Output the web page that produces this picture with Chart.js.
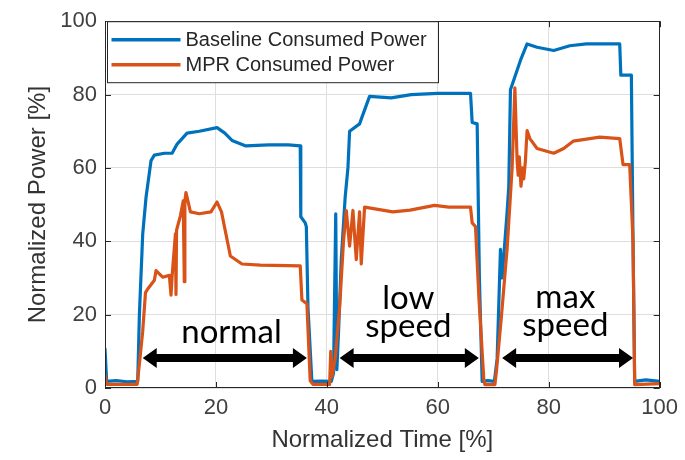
<!DOCTYPE html>
<html><head><meta charset="utf-8">
<script src="https://cdn.jsdelivr.net/npm/chart.js@4.4.1/dist/chart.umd.min.js"></script>
<style>html,body{margin:0;padding:0;background:#fff}#wrap{width:685px;height:460px}</style>
</head><body><div id="wrap"><canvas id="c" width="685" height="460"></canvas></div>
<script>
// ---------- data ----------
const seriesNames = ["Baseline Consumed Power", "MPR Consumed Power"];
const xTicks = [0, 20, 40, 60, 80, 100];
const yTicks = [0, 20, 40, 60, 80, 100];
const xTitle = "Normalized Time [%]";
const yTitle = "Normalized Power [%]";

const baselineTime = [0, 0.3, 2, 4, 5.9, 6.2, 6.8, 7.4, 8.3, 8.9, 10.7, 12.1, 13.0, 14.8, 17.0, 20.2, 21.6, 22.9, 25.4, 29.5,
  33.1, 35.2, 35.3, 36.1, 36.3, 36.6, 37.3, 39, 40.8, 41.2, 41.6, 41.8, 42.1, 42.6, 43.3, 43.8, 44.1, 45.9, 46.2, 47.7,
  51.6, 55.2, 60.0, 65.9, 66.2, 67.1, 67.5, 68.0, 69, 70.2, 70.7, 71.3, 71.6, 72.5, 72.8, 73.1, 73.7, 74.9, 76.1, 77.9,
  80.9, 83.8, 86.8, 92.8, 93.0, 94.9, 95.2, 95.5, 97.5, 100];
const baselinePower = [10.7, 1.8, 2.0, 1.7, 1.8, 20, 42, 52, 62, 63.5, 64, 64, 66.5, 69.5, 70, 71, 69.5, 67.5, 66, 66.3,
  66.3, 66, 46.7, 45, 44, 21.8, 1.8, 1.9, 1.8, 4, 47.5, 5, 15, 35, 52, 60, 70, 72, 73.3, 79.5,
  79.1, 80, 80.3, 80.3, 72.4, 72, 30, 1.8, 2.0, 1.8, 8, 37.8, 30, 48, 55, 81.3, 84, 89.3, 93.8, 92.9,
  92, 93.3, 93.8, 93.8, 85.3, 85.3, 40, 1.8, 2.2, 1.8];

const mprTime = [0, 0.3, 3, 5.8, 6.3, 6.8, 7.3, 7.7, 8.9, 9.2, 10.4, 11.6, 11.9, 12.1, 12.7, 12.8, 12.9, 13.6, 14.1, 14.3,
  14.4, 14.6, 15.4, 17.0, 19.1, 20.2, 21.0, 22.6, 24.7, 28.0, 35.2, 35.5, 36.4, 37.0, 37.5, 40.5, 40.7, 40.9, 41.5, 42.3,
  43.0, 43.5, 44.1, 44.7, 45.3, 45.9, 46.2, 46.8, 51.9, 55.0, 59.4, 62.0, 65.9, 66.2, 66.8, 67.4, 68.3, 68.5, 70.3, 70.6,
  71.5, 72.5, 73.2, 73.4, 73.9, 74.3, 74.5, 74.7, 75.0, 75.3, 75.5, 75.8, 76.1, 76.6, 77.9, 80.9, 82.7, 84.4, 89.2, 92.8,
  93.4, 94.6, 95.2, 95.5, 100];
const mprPower = [3.5, 1.0, 1.0, 1.0, 8, 15.5, 26, 27, 29.4, 32, 30.2, 30.7, 25.3, 30.5, 42, 25.5, 43, 47, 51, 29,
  51, 53.3, 48, 47.5, 48, 50.7, 48, 36, 33.8, 33.5, 33.3, 24, 23, 2, 1.0, 1.0, 10, 3, 8, 22,
  40, 48.4, 38.7, 48.4, 35, 48, 33.8, 49.3, 48, 48.5, 49.8, 49.3, 49.3, 45, 44, 25, 2.2, 0.9, 0.9, 5,
  20, 38, 55, 60, 81.8, 62, 58, 63, 55, 60, 57, 62, 70.2, 68, 65.3, 64, 65.3, 67.3, 68.4, 68,
  60.9, 60.9, 40, 0.9, 1.2];

const phaseNames = [["normal"], ["low", "speed"], ["max", "speed"]];

// ---------- drawing ----------
const SANS = "'Liberation Sans', Arial, sans-serif";
const COLORS = ["#0072BD", "#D95319"];

function toXY(xs, ys) { return xs.map((v, i) => ({ x: v, y: ys[i] })); }

const overlay = {
  id: 'overlay',
  afterDatasetsDraw(chart) {
    const { ctx, chartArea: a, scales: { x, y } } = chart;
    ctx.save();
    // axes box
    ctx.strokeStyle = '#262626';
    ctx.lineWidth = 1;
    ctx.strokeRect(Math.round(a.left) + 0.5, Math.round(a.top) + 0.5, Math.round(a.right - a.left) - 1, Math.round(a.bottom - a.top) - 1);
    // inner ticks
    ctx.beginPath();
    xTicks.forEach(v => {
      const px = Math.round(x.getPixelForValue(v)) + 0.5;
      ctx.moveTo(px, a.bottom); ctx.lineTo(px, a.bottom - 6);
      ctx.moveTo(px, a.top); ctx.lineTo(px, a.top + 6);
    });
    yTicks.forEach(v => {
      const py = Math.round(y.getPixelForValue(v)) + 0.5;
      ctx.moveTo(a.left, py); ctx.lineTo(a.left + 6, py);
      ctx.moveTo(a.right, py); ctx.lineTo(a.right - 6, py);
    });
    ctx.stroke();

    // phase annotations
    const phases = [
      { cx: 22.8, lines: [12.4], from: 6.8, to: 36.4 },
      { cx: 54.7, lines: [21.6, 13.9], from: 42.3, to: 67.4 },
      { cx: 83.0, lines: [21.9, 14.1], from: 71.6, to: 95.2 }
    ];
    ctx.fillStyle = '#000';
    ctx.font = "33px Lato, 'Open Sans', sans-serif";
    ctx.textAlign = 'center';
    ctx.textBaseline = 'alphabetic';
    phases.forEach((p, i) => {
      phaseNames[i].forEach((t, j) => {
        ctx.fillText(t, x.getPixelForValue(p.cx), y.getPixelForValue(p.lines[j]));
      });
      const x1 = x.getPixelForValue(p.from), x2 = x.getPixelForValue(p.to), yy = y.getPixelForValue(8.2);
      const hl = 14, hh = 10, bw = 4;
      ctx.beginPath();
      ctx.moveTo(x1, yy); ctx.lineTo(x1 + hl, yy - hh); ctx.lineTo(x1 + hl, yy - bw);
      ctx.lineTo(x2 - hl, yy - bw); ctx.lineTo(x2 - hl, yy - hh); ctx.lineTo(x2, yy);
      ctx.lineTo(x2 - hl, yy + hh); ctx.lineTo(x2 - hl, yy + bw); ctx.lineTo(x1 + hl, yy + bw);
      ctx.lineTo(x1 + hl, yy + hh); ctx.closePath(); ctx.fill();
    });

    // legend box
    const lx = a.left + 1.5, ly = a.top + 0.5, lw = 331, lh = 61;
    ctx.fillStyle = '#fff';
    ctx.fillRect(lx, ly, lw, lh);
    ctx.strokeStyle = '#262626';
    ctx.lineWidth = 1;
    ctx.strokeRect(Math.round(lx) + 0.5, ly, lw, lh);
    ctx.font = "20px " + SANS;
    ctx.textAlign = 'left';
    ctx.textBaseline = 'middle';
    chart.data.datasets.forEach((ds, i) => {
      const yy = ly + 18 + i * 25;
      ctx.strokeStyle = ds.borderColor;
      ctx.lineWidth = 3.5;
      ctx.beginPath(); ctx.moveTo(lx + 5, yy); ctx.lineTo(lx + 74, yy); ctx.stroke();
      ctx.fillStyle = '#262626';
      ctx.fillText(ds.label, lx + 79, yy + 1);
    });
    ctx.restore();
  }
};

const axisCommon = (ticksArr, titleText, isY) => ({
  type: 'linear', min: 0, max: 100,
  afterBuildTicks: s => { s.ticks = ticksArr.map(v => ({ value: v })); },
  afterFit: s => { if (isY) s.width = 105; else s.height = 72; },
  ticks: { font: { family: SANS, size: 22 }, color: '#404040', padding: isY ? 8 : 7, maxRotation: 0, autoSkip: false },
  grid: { color: '#dedede', lineWidth: 1, drawTicks: false },
  border: { display: false },
  title: { display: true, text: titleText, font: { family: SANS, size: 24 }, color: '#333333',
           padding: isY ? { top: 24, bottom: 0 } : { top: 0, bottom: 5 } }
});

new Chart(document.getElementById('c'), {
  type: 'line',
  data: {
    datasets: [
      { label: seriesNames[0], data: toXY(baselineTime, baselinePower), borderColor: COLORS[0], backgroundColor: COLORS[0], order: 2 },
      { label: seriesNames[1], data: toXY(mprTime, mprPower), borderColor: COLORS[1], backgroundColor: COLORS[1], order: 1 }
    ]
  },
  options: {
    responsive: false, animation: false, devicePixelRatio: 1,
    layout: { padding: { top: 14, right: 22, left: 0, bottom: 0 } },
    elements: { point: { radius: 0 }, line: { borderWidth: 3.2, tension: 0, borderJoinStyle: 'round', borderCapStyle: 'round' } },
    plugins: { legend: { display: false }, tooltip: { enabled: false } },
    scales: { x: axisCommon(xTicks, xTitle, false), y: axisCommon(yTicks, yTitle, true) }
  },
  plugins: [overlay]
});
</script></body></html>
